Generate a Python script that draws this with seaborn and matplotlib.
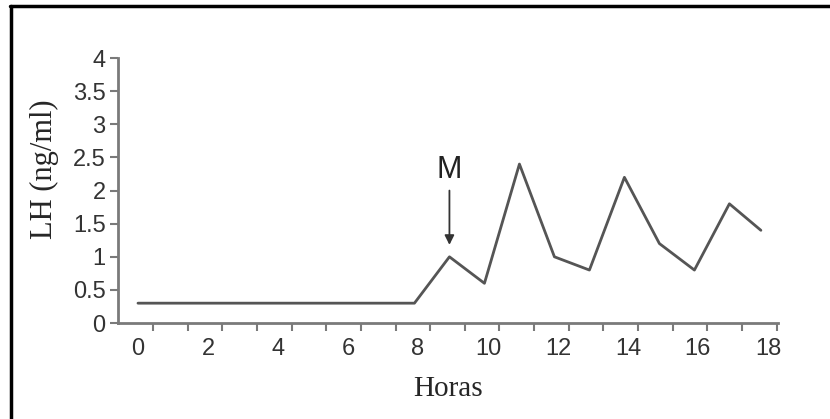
import numpy as np
import seaborn as sns
import matplotlib.pyplot as plt
from matplotlib import font_manager
from matplotlib.lines import Line2D

# LH concentration
hours = [0, 7.9, 8.9, 9.9, 10.9, 11.9, 12.9, 13.9, 14.9, 15.9, 16.9, 17.8]
lh = [0.3, 0.3, 1.0, 0.6, 2.4, 1.0, 0.8, 2.2, 1.2, 0.8, 1.8, 1.4]
y_ticks = [0, 0.5, 1, 1.5, 2, 2.5, 3, 3.5, 4]
y_labels = ["0", "0.5", "1", "1.5", "2", "2.5", "3", "3.5", "4"]
x_labels = [0, 2, 4, 6, 8, 10, 12, 14, 16, 18]

sns.set_style("white")

# narrow font for the tick numbers if it is there
names = {f.name for f in font_manager.fontManager.ttflist}
tick_font = "Liberation Sans Narrow" if "Liberation Sans Narrow" in names else "Liberation Sans"

line_col = "#555555"
axis_col = "#7a7a7a"

fig = plt.figure(figsize=(8.3, 4.19), dpi=100)
ax = fig.add_axes([0.1422, 0.229, 0.7952, 0.6324])

sns.lineplot(x=hours, y=lh, color=line_col, linewidth=2, ax=ax)

ax.set_xlim(-0.57, 18.29)
ax.set_ylim(0, 4)

# y axis
ax.set_yticks(y_ticks)
ax.set_yticklabels(y_labels, fontfamily=tick_font, fontsize=17, color="#333333")
ax.tick_params(axis="y", direction="out", length=6, width=1.5, color=axis_col, pad=3, left=True)

# x axis: labels at even hours, small tick marks sit slightly off them
ax.set_xticks(x_labels)
ax.set_xticklabels([str(v) for v in x_labels], fontfamily=tick_font, fontsize=17, color="#333333")
ax.set_xticks(np.arange(19) * 0.99 + 0.43, minor=True)
ax.tick_params(axis="x", which="major", length=0, pad=11)
ax.tick_params(axis="x", which="minor", direction="out", length=6, width=1.5,
               color=axis_col, bottom=True)

for side in ["top", "right"]:
    ax.spines[side].set_visible(False)
for side in ["left", "bottom"]:
    ax.spines[side].set_color(axis_col)
    ax.spines[side].set_linewidth(2)

ax.set_xlabel("Horas", fontfamily="Liberation Serif", fontsize=21, labelpad=11)
ax.set_ylabel("LH (ng/ml)", fontfamily="Liberation Serif", fontsize=22)
ax.yaxis.set_label_coords(-0.09, 0.58)

# M marker with arrow
ax.annotate("", xy=(hours[2], 1.18), xytext=(hours[2], 2.0),
            arrowprops=dict(arrowstyle="-|>", color="#333333", lw=1.3,
                            mutation_scale=14, shrinkA=0, shrinkB=0))
ax.text(hours[2], 2.31, "M", fontfamily="Liberation Sans", fontsize=22,
        ha="center", va="center", color="#222222")

# frame lines of the scanned figure (top and left only)
fig.add_artist(Line2D([0.012, 1.0], [0.985, 0.985], transform=fig.transFigure,
                      color="black", linewidth=2.5))
fig.add_artist(Line2D([0.0133, 0.0133], [0.0, 0.985], transform=fig.transFigure,
                      color="black", linewidth=2.5))

fig.savefig("out.png", dpi=100)
